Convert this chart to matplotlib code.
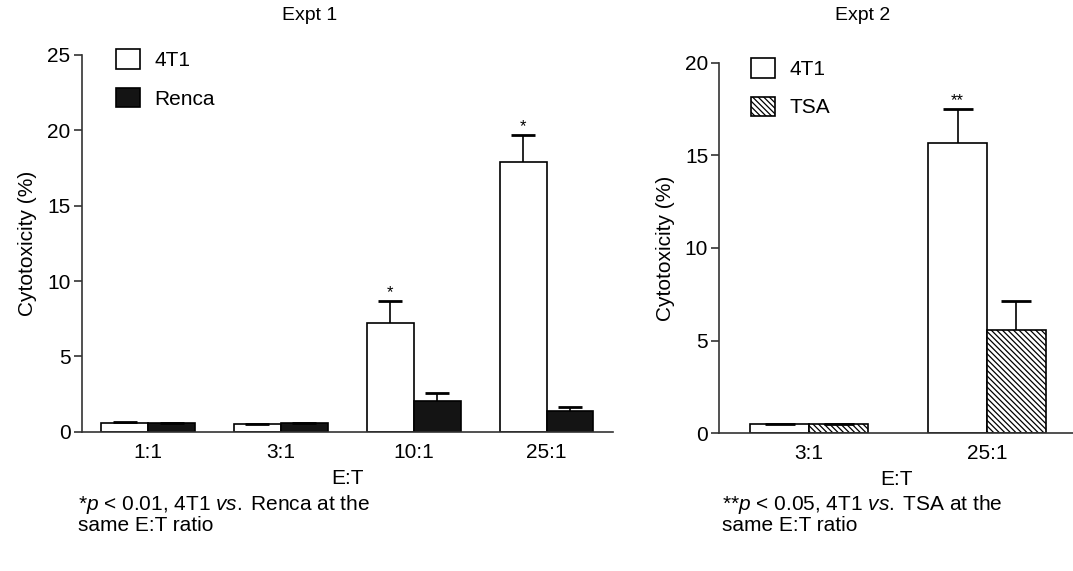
import matplotlib
matplotlib.use("Agg")
import matplotlib.pyplot as plt
import numpy as np

plt.rcParams['font.family'] = ['Liberation Sans', 'DejaVu Sans']
plt.rcParams['mathtext.fontset'] = 'custom'
plt.rcParams['mathtext.rm'] = 'Liberation Sans'
plt.rcParams['mathtext.it'] = 'Liberation Sans:italic'
plt.rcParams['hatch.linewidth'] = 0.9

# Expt 1
ratios1 = ['1:1', '3:1', '10:1', '25:1']
t4t1_1 = [0.60, 0.49, 7.23, 17.88]
t4t1_1_err = [0.02, 0.05, 1.44, 1.81]
renca = [0.56, 0.55, 2.04, 1.37]
renca_err = [0.04, 0.05, 0.55, 0.29]
stars1 = ['', '', '*', '*']

# Expt 2
ratios2 = ['3:1', '25:1']
t4t1_2 = [0.49, 15.65]
t4t1_2_err = [0.0, 1.84]
tsa = [0.49, 5.58]
tsa_err = [0.0, 1.56]
stars2 = ['', '**']

fig = plt.figure(figsize=(10.73, 5.71), dpi=100)
ax1 = fig.add_axes([0.0761, 0.2440, 0.4952, 0.6597])
ax2 = fig.add_axes([0.6704, 0.2412, 0.3296, 0.6490])

def style(ax):
    for s in ['top', 'right']:
        ax.spines[s].set_visible(False)
    for s in ['left', 'bottom']:
        ax.spines[s].set_linewidth(1.2)
        ax.spines[s].set_color('#333333')
    ax.tick_params(axis='y', length=6, width=1.2, color='#333333', labelsize=15, pad=2)
    ax.tick_params(axis='x', length=0, labelsize=15, pad=8)
    ax.set_ylabel('Cytotoxicity (%)', fontsize=15, labelpad=7)


def upper_err(ax, x, y, err, cap):
    # only the upper half of the error bar, as in the original figure
    eb = ax.errorbar(x, y, yerr=[np.zeros(len(y)), err], fmt='none', ecolor='black',
                     elinewidth=1.2, capsize=cap, capthick=2)
    eb[1][0].set_visible(False)


def draw(ax, labels, a, a_err, b, b_err, stars, w, b_kw, b_name, cap):
    x = np.arange(len(labels))
    ax.bar(x - w / 2, a, w, color='white', edgecolor='black', linewidth=1.2, label='4T1')
    ax.bar(x + w / 2, b, w, edgecolor='black', linewidth=1.2, label=b_name, **b_kw)
    upper_err(ax, x - w / 2, a, a_err, cap)
    upper_err(ax, x + w / 2, b, b_err, cap)
    for i, s in enumerate(stars):
        if s:
            ax.text(x[i] - w / 2, a[i] + a_err[i] + 0.05, s, ha='center', va='bottom', fontsize=12)
    ax.set_xticks(x)
    ax.set_xticklabels(labels)
    ax.set_xlabel('E:T', fontsize=15, labelpad=5)


draw(ax1, ratios1, t4t1_1, t4t1_1_err, renca, renca_err, stars1, 0.353,
     dict(color='#141414'), 'Renca', 8.5)
ax1.set_xlim(-0.5, 3.5)
ax1.set_ylim(0, 25)
ax1.set_yticks([0, 5, 10, 15, 20, 25])
style(ax1)

draw(ax2, ratios2, t4t1_2, t4t1_2_err, tsa, tsa_err, stars2, 0.331,
     dict(color='white', hatch='\\\\\\\\\\\\'), 'TSA', 10.5)
ax2.set_xlim(-0.504, 1.483)
ax2.set_ylim(0, 20)
ax2.set_yticks([0, 5, 10, 15, 20])
style(ax2)

for ax, anchor in [(ax1, (0.065, 1.015)), (ax2, (0.09, 1.012))]:
    ax.legend(loc='upper left', bbox_to_anchor=anchor, frameon=False, fontsize=15,
              handlelength=1.15, handleheight=1.05, labelspacing=0.85,
              handletextpad=0.7, borderpad=0, borderaxespad=0)

fig.text(310 / 1073, 1 - 16 / 571, 'Expt 1', ha='center', va='center', fontsize=14)
fig.text(863 / 1073, 1 - 16 / 571, 'Expt 2', ha='center', va='center', fontsize=14)

fig.text(78 / 1073, 1 - 493 / 571,
         '*$\\mathit{p}$ < 0.01, 4T1 $\\mathit{vs.}\\;$Renca at the\nsame E:T ratio',
         ha='left', va='top', fontsize=15, linespacing=1.0)
fig.text(722 / 1073, 1 - 493 / 571,
         '**$\\mathit{p}$ < 0.05, 4T1 $\\mathit{vs.}\\;$TSA at the\nsame E:T ratio',
         ha='left', va='top', fontsize=15, linespacing=1.0)

fig.savefig('out.png', dpi=100)
